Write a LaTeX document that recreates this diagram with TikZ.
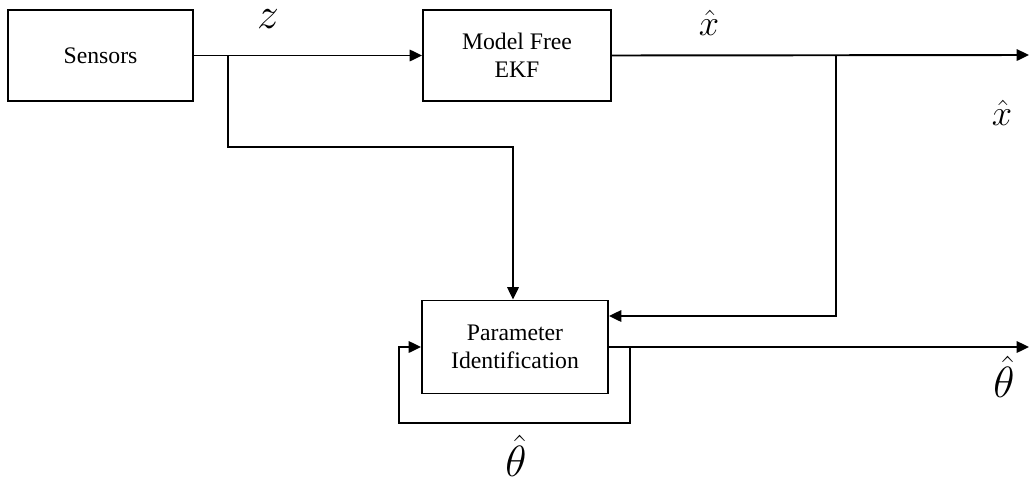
\documentclass[tikz,border=0pt]{standalone}
\usepackage{fontspec}
\setmainfont{Liberation Serif}
\usepackage{amsmath}
\usetikzlibrary{arrows.meta}
\begin{document}
\begin{tikzpicture}[x=0.02cm,y=-0.02cm,
  blk/.style={draw,line width=1.1pt,inner sep=0pt,align=center,font=\fontsize{13.5}{16}\selectfont},
  conn/.style={line width=1.1pt},
  arr/.style={conn,-{Triangle[length=7pt,width=6.5pt]}},
  lbl/.style={inner sep=0pt,font=\fontsize{21}{24}\selectfont},
  lblb/.style={inner sep=0pt,font=\fontsize{23}{26}\selectfont}]
\useasboundingbox (0,0) rectangle (1030,480);
\node[blk,minimum width=185*0.02cm,minimum height=91*0.02cm] (sens) at (100.5,55.5) {Sensors};
\node[blk,minimum width=188*0.02cm,minimum height=91*0.02cm] (ekf) at (517,55.5) {Model Free\\EKF};
\node[blk,minimum width=186*0.02cm,minimum height=93*0.02cm] (pid) at (515,347) {Parameter\\Identification};
\coordinate (j1) at (228,55);
\coordinate (j2) at (836,55);
\coordinate (xout) at (1029,55);
\coordinate (thout) at (1029,347);
\coordinate (fb) at (630,347);
\draw[arr] (sens.east) -- (ekf.west);
\draw[arr] (j1) |- (513,147) -- (pid.north -| 513,0);
\draw[arr] (ekf.east) -- (xout);
\draw[arr] (j2) |- (pid.east |- 0,316);
\draw[arr] (pid.east |- 0,347) -- (thout);
\draw[arr] (fb) |- (399,423) |- (pid.west |- 0,347);
\node[lblb] (zl) at (268,19) {$z$};
\node[lbl] (x1) at (709,23) {$\hat{x}$};
\node[lbl] (x2) at (1002,113) {$\hat{x}$};
\node[lblb] (t1) at (1004,377) {$\hat{\theta}$};
\node[lblb] (t2) at (516,456) {$\hat{\theta}$};
\end{tikzpicture}
\end{document}
